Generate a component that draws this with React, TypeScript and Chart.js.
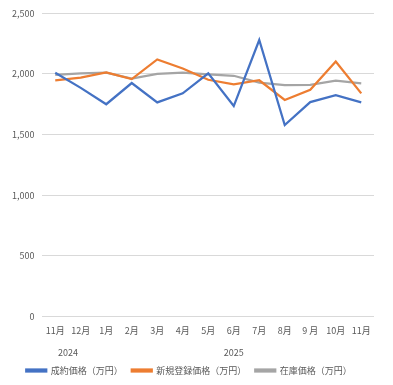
import React, { useEffect, useRef } from "react";
import { Chart, registerables } from "chart.js";

Chart.register(...registerables);

const months = ["11月", "12月", "1月", "2月", "3月", "4月", "5月", "6月", "7月", "8月", "9 月", "10月", "11月"];
const yearGroups = [
  { label: "2024", from: 0, to: 1 },
  { label: "2025", from: 2, to: 12 },
];
const seriesNames = ["成約価格（万円）", "新規登録価格（万円）", "在庫価格（万円）"];
const contractPrice = [2010, 1885, 1750, 1925, 1765, 1840, 2005, 1735, 2280, 1578, 1768, 1825, 1765];
const newListingPrice = [1948, 1970, 2012, 1958, 2120, 2045, 1952, 1915, 1948, 1785, 1870, 2102, 1840];
const stockPrice = [1992, 2005, 2010, 1962, 2000, 2010, 1996, 1985, 1928, 1908, 1910, 1945, 1922];
const colors = ["#4472C4", "#ED7D31", "#A5A5A5"];
const fontFamily = "'Noto Sans CJK JP', 'Noto Sans', sans-serif";

const yearPlugin = {
  id: "yearLabels",
  afterDraw(chart: any) {
    const x = chart.scales.x;
    const ctx = chart.ctx;
    ctx.save();
    ctx.fillStyle = "#595959";
    ctx.font = `9px ${fontFamily}`;
    ctx.textAlign = "center";
    ctx.textBaseline = "middle";
    yearGroups.forEach((g) => {
      const cx = (x.getPixelForValue(g.from) + x.getPixelForValue(g.to)) / 2;
      ctx.fillText(g.label, cx, x.top + 36);
    });
    ctx.restore();
  },
};

export default function App() {
  const ref = useRef<HTMLCanvasElement>(null);
  useEffect(() => {
    const datasets = [contractPrice, newListingPrice, stockPrice].map((d, i) => ({
      label: seriesNames[i],
      data: d,
      borderColor: colors[i],
      backgroundColor: colors[i],
      borderWidth: 2.25,
      pointRadius: 0,
      tension: 0,
    }));
    const chart = new Chart(ref.current!, {
      type: "line",
      data: { labels: months, datasets },
      plugins: [yearPlugin],
      options: {
        animation: false,
        responsive: false,
        maintainAspectRatio: false,
        layout: { padding: { left: 4, right: 19, top: 1, bottom: 0 } },
        plugins: {
          legend: {
            position: "bottom",
            labels: {
              boxWidth: 20,
              boxHeight: 2,
              color: "#595959",
              font: { family: fontFamily, size: 9 },
              padding: 9,
            },
          },
          tooltip: { enabled: false },
        },
        scales: {
          x: {
            offset: true,
            grid: { display: false },
            border: { display: false },
            ticks: {
              color: "#595959",
              font: { family: fontFamily, size: 9 },
              maxRotation: 0,
              autoSkip: false,
              padding: 1,
            },
            afterFit(scale: any) {
              scale.height += 20;
            },
          },
          y: {
            min: 0,
            max: 2500,
            grid: { color: "#d9d9d9", drawTicks: false },
            border: { display: false },
            ticks: {
              stepSize: 500,
              color: "#595959",
              font: { family: fontFamily, size: 9 },
              padding: 8,
              callback: (v: any) => Number(v).toLocaleString("en-US"),
            },
          },
        },
      },
    });
    return () => chart.destroy();
  }, []);
  return (
    <div style={{ position: "fixed", left: 0, top: 0, width: 393, height: 385, background: "#fff" }}>
      <canvas ref={ref} width={393} height={385} style={{ width: 393, height: 385 }} />
    </div>
  );
}
